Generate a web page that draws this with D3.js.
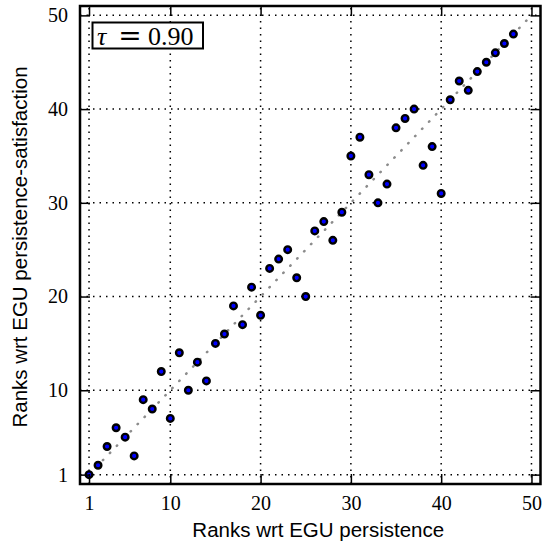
<!DOCTYPE html>
<html>
<head>
<meta charset="utf-8">
<script src="https://cdn.jsdelivr.net/npm/d3@7"></script>
<style>
    body { margin: 0; background: #fff; }
    svg { display: block; }
</style>
</head>
<body>
<div id="chart"></div>
<script>
// data
var xRanks = [1, 2, 3, 4, 5, 6, 7, 8, 9, 10, 11, 12, 13, 14, 15, 16, 17, 18, 19, 20, 21, 22, 23, 24,
    25, 26, 27, 28, 29, 30, 31, 32, 33, 34, 35, 36, 37, 38, 39, 40, 41, 42, 43, 44, 45, 46, 47, 48];
var yRanks = [1, 2, 4, 6, 5, 3, 9, 8, 12, 7, 14, 10, 13, 11, 15, 16, 19, 17, 21, 18, 23, 24, 25, 22,
    20, 27, 28, 26, 29, 35, 37, 33, 30, 32, 38, 39, 40, 34, 36, 31, 41, 43, 42, 44, 45, 46, 47, 48];
var tickValues = [1, 10, 20, 30, 40, 50];
var diagonal = [1, 50];
var tauLabel = "0.90";

var app = app || {};

app.RankScatter = (function () {
    'use strict';

    var init = function (baseElement) {
        var config = configure(d3.select(baseElement));
        structure(config);
        grid(config);
        points(config);
        axes(config);
        labels(config);
        return config;
    };

    var configure = function (base) {
        var m = { width: 543, height: 544, left: 80, top: 6, right: 540.5, bottom: 484 };
        return {
            base: base,
            m: m,
            x: d3.scaleLinear().domain([0, 51]).range([m.left, m.right]),
            y: d3.scaleLinear().domain([0, 51]).range([m.bottom, m.top]),
            data: xRanks.map(function (d, i) { return { x: d, y: yRanks[i] }; })
        };
    };

    var structure = function (config) {
        config.svg = config.base.append("svg")
            .attr("width", config.m.width)
            .attr("height", config.m.height);
    };

    var grid = function (config) {
        var svg = config.svg, x = config.x, y = config.y, m = config.m;
        var g = svg.append("g").attr("class", "grid")
            .attr("stroke", "#000")
            .attr("stroke-width", 1.5)
            .attr("stroke-dasharray", "1.5,5");

        g.selectAll("line.gx").data(tickValues).enter().append("line")
            .attr("class", "gx")
            .attr("x1", function (d) { return x(d); })
            .attr("x2", function (d) { return x(d); })
            .attr("y1", m.bottom).attr("y2", m.top);

        g.selectAll("line.gy").data(tickValues).enter().append("line")
            .attr("class", "gy")
            .attr("y1", function (d) { return y(d); })
            .attr("y2", function (d) { return y(d); })
            .attr("x1", m.left).attr("x2", m.right);

        // the grey 1:1 line
        svg.append("line")
            .attr("x1", x(diagonal[0])).attr("y1", y(diagonal[0]))
            .attr("x2", x(diagonal[1])).attr("y2", y(diagonal[1]))
            .attr("stroke", "#8c8c8c")
            .attr("stroke-width", 2.5)
            .attr("stroke-linecap", "round")
            .attr("stroke-dasharray", "0.5,9.5");
    };

    var points = function (config) {
        config.svg.append("g").selectAll("circle")
            .data(config.data).enter().append("circle")
            .attr("cx", function (d) { return config.x(d.x); })
            .attr("cy", function (d) { return config.y(d.y); })
            .attr("r", 3.3)
            .attr("fill", "#0000ff")
            .attr("stroke", "#000")
            .attr("stroke-width", 2.4);
    };

    var axes = function (config) {
        var svg = config.svg, x = config.x, y = config.y, m = config.m;
        var tick = 10;
        var sides = [
            { axis: d3.axisBottom(x), t: "translate(0," + m.bottom + ")", labels: true },
            { axis: d3.axisTop(x), t: "translate(0," + m.top + ")", labels: false },
            { axis: d3.axisLeft(y), t: "translate(" + m.left + ",0)", labels: true },
            { axis: d3.axisRight(y), t: "translate(" + m.right + ",0)", labels: false }
        ];

        sides.forEach(function (s) {
            var g = svg.append("g").attr("transform", s.t)
                .call(s.axis.tickValues(tickValues).tickSizeInner(-tick).tickSizeOuter(0).tickPadding(12));
            g.select(".domain").remove();
            g.selectAll(".tick line").attr("stroke", "#000").attr("stroke-width", 1.5);
            g.selectAll("text")
                .attr("font-family", "'Liberation Serif', 'DejaVu Serif', serif")
                .attr("font-size", 20)
                .attr("fill", "#000");
            if (!s.labels) {
                g.selectAll("text").remove();
            }
        });

        // frame
        svg.append("rect")
            .attr("x", m.left).attr("y", m.top)
            .attr("width", m.right - m.left)
            .attr("height", m.bottom - m.top)
            .attr("fill", "none")
            .attr("stroke", "#000")
            .attr("stroke-width", 2.5);
    };

    var labels = function (config) {
        var svg = config.svg, m = config.m;
        var sans = "'Liberation Sans', Arial, sans-serif";
        var serif = "'Liberation Serif', 'DejaVu Serif', serif";

        svg.append("text")
            .attr("x", (m.left + m.right) / 2 + 8)
            .attr("y", 537)
            .attr("text-anchor", "middle")
            .attr("font-family", sans)
            .attr("font-size", 20.5)
            .text("Ranks wrt EGU persistence");

        svg.append("text")
            .attr("transform", "translate(27," + ((m.top + m.bottom) / 2 + 2) + ") rotate(-90)")
            .attr("text-anchor", "middle")
            .attr("font-family", sans)
            .attr("font-size", 20.5)
            .text("Ranks wrt EGU persistence-satisfaction");

        // tau box
        var box = svg.append("g");
        box.append("rect")
            .attr("x", 92.5).attr("y", 22.5)
            .attr("width", 110.5).attr("height", 26)
            .attr("fill", "#fff")
            .attr("stroke", "#000")
            .attr("stroke-width", 2);
        box.append("text")
            .attr("x", 97).attr("y", 45)
            .attr("font-family", serif)
            .attr("font-style", "italic")
            .attr("font-size", 26)
            .text("τ");
        box.append("text")
            .attr("x", 130).attr("y", 45)
            .attr("text-anchor", "middle")
            .attr("font-family", "'DejaVu Serif', serif")
            .attr("font-size", 28)
            .text("=");
        box.append("text")
            .attr("x", 148).attr("y", 45)
            .attr("font-family", serif)
            .attr("font-size", 26)
            .text(tauLabel);
    };

    return {
        init: init
    };
}());

app.RankScatter.init("#chart");
</script>
</body>
</html>
